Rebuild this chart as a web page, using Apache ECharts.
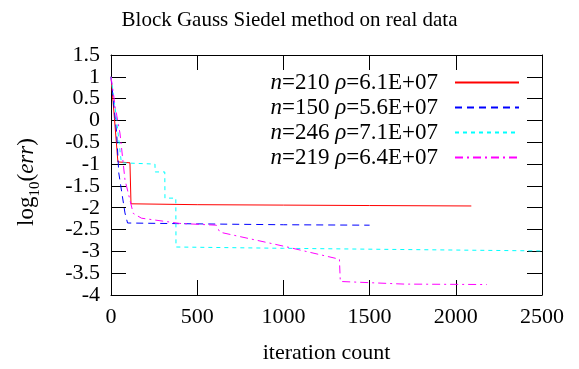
<!DOCTYPE html>
<html>
<head>
<meta charset="utf-8">
<script src="https://cdn.jsdelivr.net/npm/echarts@6/dist/echarts.min.js"></script>
<style>
html, body { margin: 0; padding: 0; background: #fff; }
#main { width: 579px; height: 369px; }
</style>
</head>
<body>
<div id="main"></div>
<script>
// values
var nVals = [210, 150, 246, 219];
var rhoVals = ['6.1E+07', '5.6E+07', '7.1E+07', '6.4E+07'];
var colors = ['#ff0000', '#0000ff', '#00ffff', '#ff00ff'];
var dashes = ['solid', [7, 5], [4, 4], [8, 4, 2, 4]];

var iterRed = [0, 20, 40, 110, 116, 500, 1000, 1500, 2090];
var errRed = [1.0, 0.05, -0.95, -0.97, -1.91, -1.93, -1.94, -1.95, -1.96];

var iterBlue = [0, 33, 45, 81, 96, 500, 1000, 1500];
var errBlue = [1.0, -0.29, -1.2, -2.12, -2.35, -2.37, -2.39, -2.40];

var iterCyan = [0, 30, 60, 255, 256, 312, 313, 376, 377, 1000, 2000, 2500];
var errCyan = [1.0, 0.1, -0.97, -1.0, -1.18, -1.18, -1.78, -1.78, -2.90, -2.93, -2.97, -2.99];

var iterMag = [0, 25, 52, 81, 129, 177, 399, 611, 631, 1000, 1325, 1330, 1700, 2180];
var errMag = [1.0, 0.3, -0.29, -1.36, -2.13, -2.24, -2.36, -2.40, -2.56, -2.88, -3.18, -3.69, -3.75, -3.76];

var xTicks = [0, 500, 1000, 1500, 2000, 2500];
var yTicks = [-4, -3.5, -3, -2.5, -2, -1.5, -1, -0.5, 0, 0.5, 1, 1.5];

var FONT = 'Liberation Serif';
var FS = 22;

function zip(xs, ys) {
    var out = [];
    for (var i = 0; i < xs.length; i++) out.push([xs[i], ys[i]]);
    return out;
}

// gnuplot style: ticks inside, on all four sides
function mkTick() {
    return { show: true, inside: true, length: 15, lineStyle: { color: '#000', width: 1 } };
}
function mkLine() {
    return { show: true, onZero: false, lineStyle: { color: '#000', width: 1 } };
}

var allX = [iterRed, iterBlue, iterCyan, iterMag];
var allY = [errRed, errBlue, errCyan, errMag];

var series = [];
for (var k = 0; k < 4; k++) {
    series.push({
        name: 'n=' + nVals[k] + ' ρ=' + rhoVals[k],
        type: 'line',
        data: zip(allX[k], allY[k]),
        showSymbol: false,
        symbol: 'none',
        animation: false,
        lineStyle: { color: colors[k], width: 1, type: dashes[k] },
        itemStyle: { color: colors[k] }
    });
}

var myChart = echarts.init(document.getElementById('main'), null, { renderer: 'canvas' });
var option = {
    backgroundColor: '#fff',
    animation: false,
    title: {
        text: 'Block Gauss Siedel method on real data',
        left: 'center',
        top: 5,
        textStyle: { fontFamily: FONT, fontSize: 21, fontWeight: 'normal', color: '#000' }
    },
    grid: { left: 111, right: 37, top: 55, bottom: 74 },
    legend: {
        orient: 'vertical',
        right: 59,
        top: 71,
        padding: 0,
        align: 'right',
        itemWidth: 64,
        itemHeight: 16,
        itemGap: 2,
        selectedMode: false,
        itemStyle: { opacity: 0, borderWidth: 0 },
        textStyle: {
            fontFamily: FONT, fontSize: 23, color: '#000', padding: [0, 12, 0, 0],
            rich: {
                i: { fontFamily: FONT, fontSize: 23, fontStyle: 'italic', color: '#000' },
                t: { fontFamily: FONT, fontSize: 23, color: '#000' }
            }
        },
        formatter: function (name) {
            var parts = name.split(' ');
            return '{i|n}{t|' + parts[0].substring(1) + ' }{i|ρ}{t|' + parts[1].substring(1) + '}';
        },
        data: series.map(function (s) { return s.name; })
    },
    xAxis: [{
        type: 'value',
        position: 'bottom',
        min: xTicks[0], max: xTicks[xTicks.length - 1], interval: 500,
        name: 'iteration count',
        nameLocation: 'middle',
        nameGap: 47,
        nameTextStyle: { fontFamily: FONT, fontSize: FS, color: '#000' },
        axisLine: mkLine(),
        axisTick: mkTick(),
        splitLine: { show: false },
        axisLabel: {
            fontFamily: FONT, fontSize: FS, color: '#000', margin: 11,
            formatter: function (v) { return String(v); }
        }
    }, {
        type: 'value', position: 'top',
        min: xTicks[0], max: xTicks[xTicks.length - 1], interval: 500,
        axisLine: mkLine(), axisTick: mkTick(),
        splitLine: { show: false }, axisLabel: { show: false }
    }],
    yAxis: [{
        type: 'value',
        position: 'left',
        min: yTicks[0], max: yTicks[yTicks.length - 1], interval: 0.5,
        name: '{n|log}{s|10}{n|(}{i|err}{n|)}',
        nameLocation: 'middle',
        nameRotate: 90,
        nameGap: 68,
        nameTextStyle: {
            fontFamily: FONT, fontSize: 23, color: '#000', padding: [0, 14, 0, 0],
            rich: {
                n: { fontFamily: FONT, fontSize: 23, color: '#000', lineHeight: 32, verticalAlign: 'middle' },
                i: { fontFamily: FONT, fontSize: 23, fontStyle: 'italic', color: '#000', lineHeight: 32, verticalAlign: 'middle' },
                s: { fontFamily: FONT, fontSize: 15, color: '#000', lineHeight: 15, verticalAlign: 'bottom' }
            }
        },
        axisLine: mkLine(),
        axisTick: mkTick(),
        splitLine: { show: false },
        axisLabel: {
            fontFamily: FONT, fontSize: FS, color: '#000', margin: 11,
            formatter: function (v) { return String(v); }
        }
    }, {
        type: 'value', position: 'right',
        min: yTicks[0], max: yTicks[yTicks.length - 1], interval: 0.5,
        axisLine: mkLine(), axisTick: mkTick(),
        splitLine: { show: false }, axisLabel: { show: false }
    }],
    series: series
};
myChart.setOption(option);
</script>
</body>
</html>
